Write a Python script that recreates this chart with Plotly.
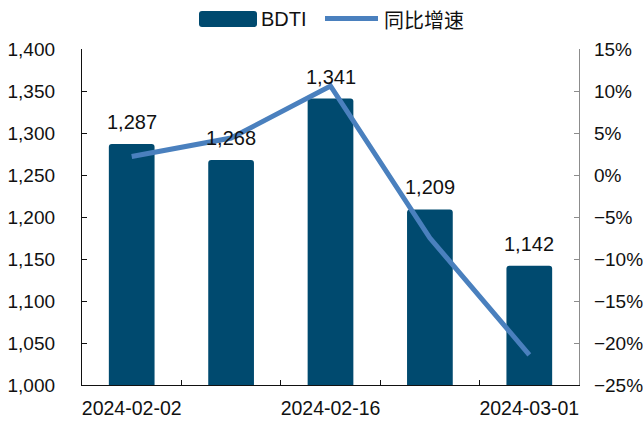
import plotly.graph_objects as go

dates = ["2024-02-02", "2024-02-09", "2024-02-16", "2024-02-23", "2024-03-01"]
bdti = [1287, 1268, 1341, 1209, 1142]
yoy = [2.2, 4.4, 10.6, -7.5, -21.4]
x_ticktext = ["2024-02-02", "", "2024-02-16", "", "2024-03-01"]

FONT = "Liberation Sans, Arial, Noto Sans CJK SC, sans-serif"
BAR_COLOR = "#004A6F"
LINE_COLOR = "#4A80BE"
W, H = 643, 423
L, R, T, B = 82, 64, 49, 38
PW, PH = W - L - R, H - T - B


def px(x):
    return (x - L) / PW


def py(y):
    return (H - B - y) / PH


fig = go.Figure()
fig.add_trace(go.Bar(
    x=dates, y=bdti, name="BDTI",
    marker=dict(color=BAR_COLOR, cornerradius=3, line=dict(width=0)),
    width=0.46, showlegend=False,
))
fig.add_trace(go.Scatter(
    x=dates, y=yoy, name="同比增速", yaxis="y2", mode="lines",
    line=dict(color=LINE_COLOR, width=5), showlegend=False,
))

annotations = []
for d, v in zip(dates, bdti):
    annotations.append(dict(x=d, y=v, xref="x", yref="y", text=f"{v:,}", showarrow=False,
                            yanchor="middle", yshift=22,
                            font=dict(size=20, color="#111111", family=FONT)))

# manual legend
x0, x1, y0, y1, r = px(199), px(257), py(11), py(27), 3
rx, ry = r / PW, r / PH
path = (f"M {x0+rx},{y1} L {x1-rx},{y1} Q {x1},{y1} {x1},{y1+ry} "
        f"L {x1},{y0-ry} Q {x1},{y0} {x1-rx},{y0} L {x0+rx},{y0} "
        f"Q {x0},{y0} {x0},{y0-ry} L {x0},{y1+ry} Q {x0},{y1} {x0+rx},{y1} Z")
shapes = [
    dict(type="path", xref="paper", yref="paper", path=path,
         fillcolor=BAR_COLOR, line=dict(width=0)),
    dict(type="line", xref="paper", yref="paper", x0=px(325), x1=px(378),
         y0=py(18.5), y1=py(18.5), line=dict(color=LINE_COLOR, width=5)),
]
annotations.append(dict(x=px(259), y=py(19), xref="paper", yref="paper", text="BDTI",
                        showarrow=False, xanchor="left", yanchor="middle",
                        font=dict(size=20, color="#111111", family=FONT)))
annotations.append(dict(x=px(382), y=py(21), xref="paper", yref="paper", text="同比增速",
                        showarrow=False, xanchor="left", yanchor="middle",
                        font=dict(size=20, color="#111111", family=FONT)))

fig.update_layout(
    width=W, height=H,
    margin=dict(l=L, r=R, t=T, b=B),
    paper_bgcolor="white", plot_bgcolor="white",
    font=dict(family=FONT, size=19, color="#111111"),
    showlegend=False,
    annotations=annotations,
    shapes=shapes,
    xaxis=dict(type="category", tickmode="array", tickvals=dates, ticktext=x_ticktext,
               tickson="boundaries", ticks="inside", ticklen=5, tickcolor="#111111",
               showline=True, linecolor="#111111", linewidth=1.3, showgrid=False,
               tickangle=0, tickfont=dict(size=19.5), ticklabelstandoff=5,
               automargin=False),
    yaxis=dict(range=[1000, 1400], dtick=50, tickformat=",", ticks="inside", ticklen=5,
               tickcolor="#111111", showline=True, linecolor="#111111", linewidth=1.3,
               showgrid=False, zeroline=False, tickfont=dict(size=19),
               ticklabelstandoff=22, automargin=False),
    yaxis2=dict(overlaying="y", side="right", range=[-25, 15], dtick=5, ticksuffix="%",
                ticks="inside", ticklen=5, tickcolor="#8C8C8C", showline=True,
                linecolor="#8C8C8C", linewidth=1.3, showgrid=False, zeroline=False,
                tickfont=dict(size=19), ticklabelstandoff=10, automargin=False),
)

fig.write_html("out.html", config={"displayModeBar": False},
               post_script="document.body.style.margin='0';")
